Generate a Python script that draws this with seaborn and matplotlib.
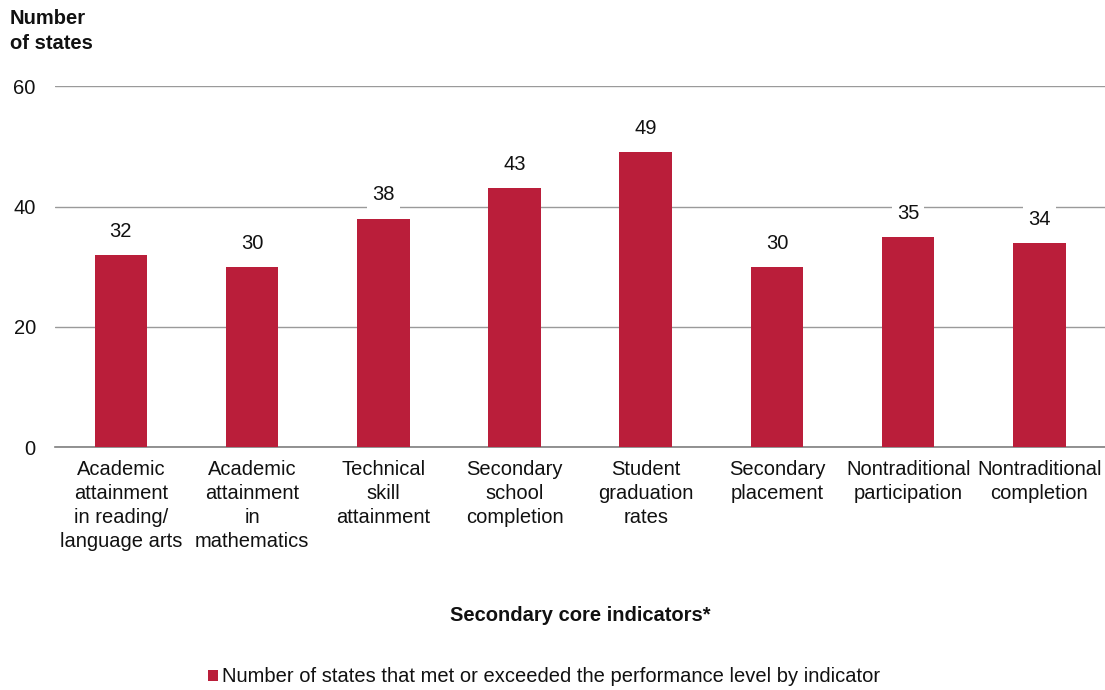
import matplotlib
matplotlib.use("Agg")
import matplotlib.pyplot as plt
import seaborn as sns
import pandas as pd

categories = [
    "Academic\nattainment\nin reading/\nlanguage arts",
    "Academic\nattainment\nin\nmathematics",
    "Technical\nskill\nattainment",
    "Secondary\nschool\ncompletion",
    "Student\ngraduation\nrates",
    "Secondary\nplacement",
    "Nontraditional\nparticipation",
    "Nontraditional\ncompletion",
]
values = [32, 30, 38, 43, 49, 30, 35, 34]
yticks = [0, 20, 40, 60]
series_name = "Number of states that met or exceeded the performance level by indicator"

BAR = "#BA1E3A"
TXT = "#111111"
FONT = ["Liberation Sans", "DejaVu Sans"]
FS = 14.5

sns.set_theme(style="white")
plt.rcParams["font.family"] = FONT
plt.rcParams["font.size"] = FS
plt.rcParams["text.color"] = TXT

df = pd.DataFrame({"indicator": categories, "states": values})

fig = plt.figure(figsize=(11.05, 6.9), dpi=100)
ax = fig.add_axes([0.05, 0.352, 0.95, 0.523])

sns.barplot(data=df, x="indicator", y="states", color=BAR, width=0.4,
            saturation=1, ax=ax, label=series_name, zorder=3, linewidth=0)
if ax.get_legend() is not None:
    ax.get_legend().remove()

ax.set_ylim(0, 60)
ax.set_xlim(-0.5, len(categories) - 0.5)
ax.set_yticks(yticks)
ax.set_yticklabels([str(t) for t in yticks], fontsize=FS, color=TXT)
ax.tick_params(axis="y", length=0, pad=14)
ax.tick_params(axis="x", length=0, pad=9, labelsize=FS, colors=TXT)
for lbl in ax.get_xticklabels():
    lbl.set_linespacing(1.34)
ax.grid(axis="y", color="#9a9a9a", linewidth=1, zorder=0)
ax.grid(axis="x", visible=False)
for s in ["top", "right", "left"]:
    ax.spines[s].set_visible(False)
ax.spines["bottom"].set_color("#7f7f7f")
ax.spines["bottom"].set_linewidth(1.2)
ax.set_xlabel("")
ax.set_ylabel("")

for i, v in enumerate(values):
    ax.annotate(str(v), (i, v), xytext=(0, 17), textcoords="offset points",
                ha="center", va="center", fontsize=FS, color=TXT,
                bbox=dict(boxstyle="square,pad=0.25", fc="white", ec="none"),
                zorder=4)

fig.text(0.009, 0.987, "Number\nof states", ha="left", va="top",
         fontsize=FS, fontweight="bold", linespacing=1.4, color=TXT)
fig.text(0.525, 0.108, "Secondary core indicators*", ha="center", va="center",
         fontsize=FS, fontweight="bold", color=TXT)

handles, labels = ax.get_legend_handles_labels()
fig.legend(handles[:1], labels[:1], loc="center", bbox_to_anchor=(0.492, 0.019),
           frameon=False, handlelength=0.5, handleheight=0.5, handletextpad=0.2,
           fontsize=FS, borderaxespad=0, labelcolor=TXT)

fig.savefig("out.png", dpi=100)
